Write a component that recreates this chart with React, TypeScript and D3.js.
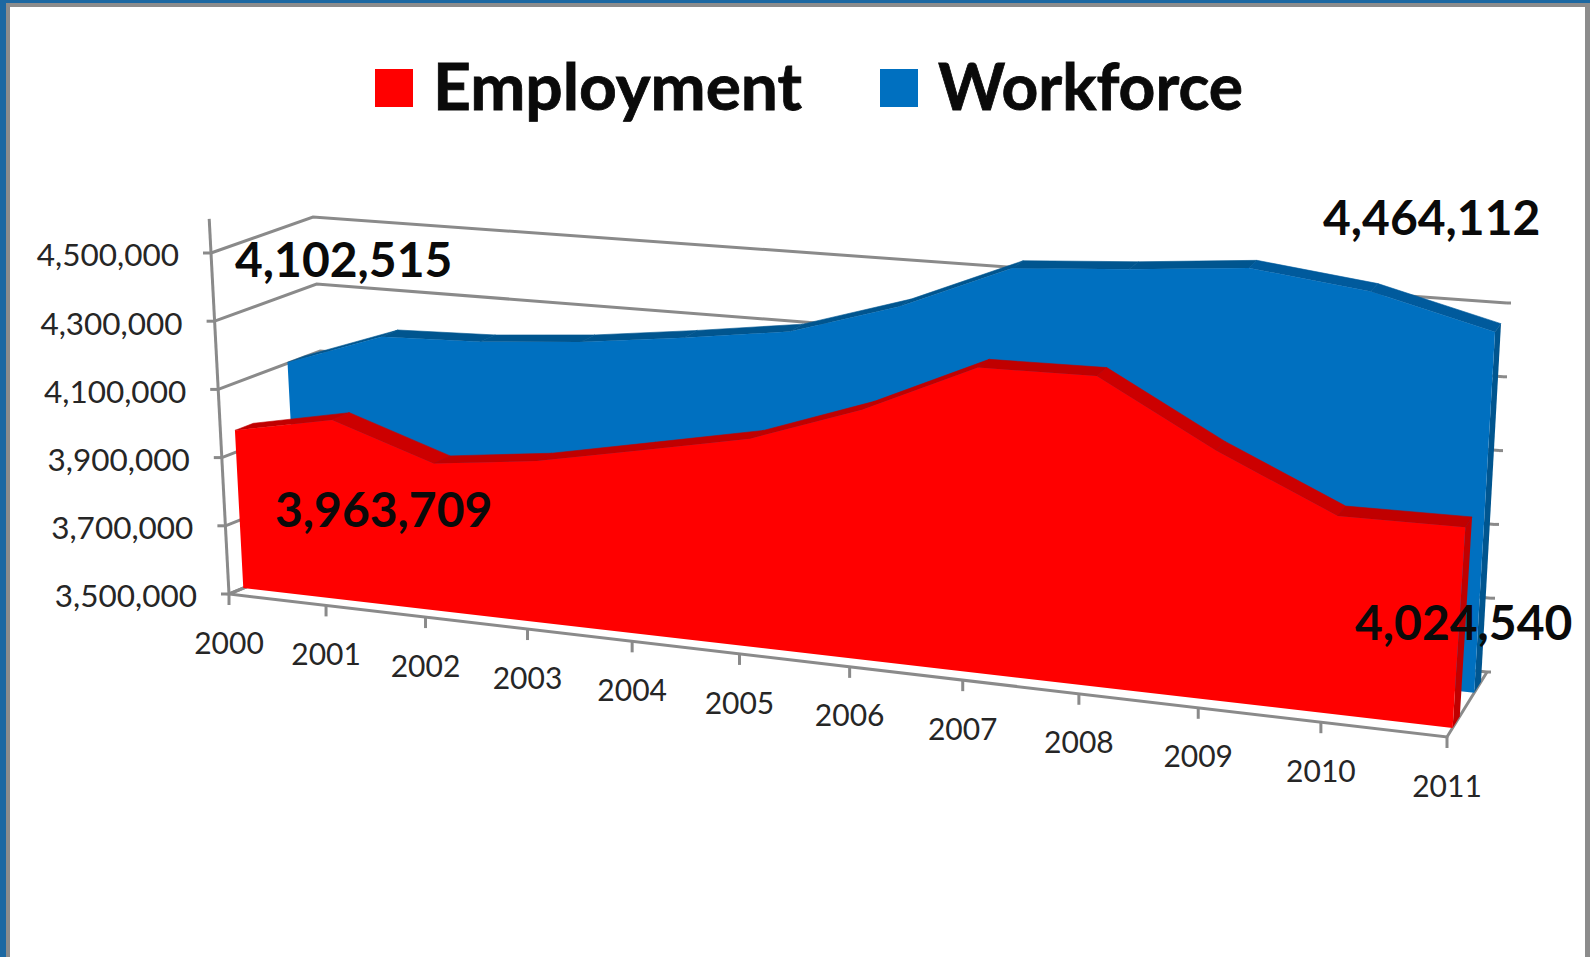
import React from "react";
import * as d3 from "d3";

// Annual state labour-market figures
const years = ["2000","2001","2002","2003","2004","2005","2006","2007","2008","2009","2010","2011"];
const employment = [3963709,4022000,3924000,3960000,4020000,4081000,4190000,4333000,4337000,4165000,4022000,4024540];
const workforce = [4102515,4203000,4212000,4236000,4273000,4315000,4410000,4541000,4561000,4588000,4548000,4464112];
const valueTicks = [3500000,3700000,3900000,4100000,4300000,4500000];

const WIDTH = 1590;
const HEIGHT = 957;
type Pt = [number, number];

// Eight corners of the chart box: front/back, left/right, floor level and top tick level
const box = {
  flb: [229, 594] as Pt, flt: [211, 253] as Pt,
  frb: [1447, 737] as Pt, frt: [1472, 352] as Pt,
  blb: [331, 552] as Pt, blt: [313, 217] as Pt,
  brb: [1487, 672] as Pt, brt: [1507, 303] as Pt,
};

const mix = (a: Pt, b: Pt, k: number): Pt => [a[0] + (b[0] - a[0]) * k, a[1] + (b[1] - a[1]) * k];

const yearScale = d3.scaleLinear().domain([0, years.length - 1]).range([0, 1]);
const valueScale = d3.scaleLinear().domain([3500000, 4500000]).range([0, 1]);
const FORESHORTEN = 1.155;

// Category position along the width of the box, with perspective foreshortening
const along = (i: number) => {
  const t = yearScale(i);
  return t / (t + (1 - t) * FORESHORTEN);
};

// Maps (year index, value, depth 0..1) onto the page
const project = (i: number, value: number, depth: number): Pt => {
  const u = along(i);
  const floor = mix(mix(box.flb, box.frb, u), mix(box.blb, box.brb, u), depth);
  const top = mix(mix(box.flt, box.frt, u), mix(box.blt, box.brt, u), depth);
  return mix(floor, top, valueScale(value));
};

const path = d3.line<Pt>().x((d) => d[0]).y((d) => d[1]);
const closed = (pts: Pt[]) => path(pts) + "Z";
const BASE = valueTicks[0];
const LAST = years.length - 1;

const AXIS = "#8a8a8a";
const LABEL = "#262626";
const SANS = "Lato, Carlito, sans-serif";

function Ribbon({ values, depth, thick, face, rim, rimAlt }: {
  values: number[]; depth: number; thick: number; face: string; rim: string; rimAlt: string;
}) {
  const front = values.map((v, i) => project(i, v, depth));
  const back = values.map((v, i) => project(i, v, depth + thick));
  const outline: Pt[] = [project(0, BASE, depth), ...front, project(LAST, BASE, depth)];
  const side: Pt[] = [
    project(LAST, BASE, depth), project(LAST, BASE, depth + thick),
    back[LAST], front[LAST],
  ];
  return (
    <g>
      {values.slice(1).map((v, k) => (
        <path
          key={k}
          d={closed([front[k], back[k], back[k + 1], front[k + 1]])}
          fill={v < values[k] ? rimAlt : rim}
          stroke={v < values[k] ? rimAlt : rim}
          strokeWidth={0.6}
        />
      ))}
      <path d={closed(side)} fill={rim} />
      <path d={closed(outline)} fill={face} />
    </g>
  );
}

export default function App() {
  const fmt = d3.format(",");
  const gridLine = { stroke: AXIS, strokeWidth: 3, fill: "none" };
  return (
    <svg
      width={WIDTH}
      height={HEIGHT}
      viewBox={`0 0 ${WIDTH} ${HEIGHT}`}
      style={{ position: "absolute", left: 0, top: 0, display: "block" }}
    >
      <rect width={WIDTH} height={HEIGHT} fill="#1c68a2" />
      <rect x={6} y={3} width={WIDTH - 6} height={HEIGHT} fill="#8c8c8c" />
      <rect x={10} y={7} width={1575} height={HEIGHT} fill="#ffffff" />

      {/* walls: one polyline per tick, across the side wall and along the back */}
      {valueTicks.map((v) => (
        <path
          key={v}
          d={path([project(0, v, 0), project(0, v, 1), project(LAST, v, 1)]) ?? ""}
          {...gridLine}
        />
      ))}
      {/* stubs on the right end of the back wall */}
      {valueTicks.map((v) => {
        const p = project(LAST, v, 1);
        return <path key={v} d={path([p, [p[0] + 4, p[1]]]) ?? ""} {...gridLine} />;
      })}

      {/* floor edges */}
      <path d={path([project(0, BASE, 1), project(0, BASE, 0), project(LAST, BASE, 0), project(LAST, BASE, 1)]) ?? ""} {...gridLine} />
      {/* value axis, running half a step past the last tick */}
      <path d={path([project(0, BASE, 0), project(0, 4600000, 0)]) ?? ""} {...gridLine} />

      {valueTicks.map((v) => {
        const [x, y] = project(0, v, 0);
        return (
          <g key={v}>
            <path d={path([[x - 8, y], [x, y]]) ?? ""} {...gridLine} />
            <text x={x - 32} y={y + 5.5} textAnchor="end" dominantBaseline="middle" fontFamily={SANS} fontSize={31.5} fill={LABEL}>
              {fmt(v)}
            </text>
          </g>
        );
      })}

      {years.map((label, i) => {
        const [x, y] = project(i, BASE, 0);
        return (
          <g key={label}>
            <path d={path([[x, y], [x, y + 11]]) ?? ""} {...gridLine} />
            <text x={x} y={y + 52} textAnchor="middle" dominantBaseline="middle" fontFamily={SANS} fontSize={30} fill={LABEL}>
              {label}
            </text>
          </g>
        );
      })}

      <Ribbon values={workforce} depth={0.68} thick={0.17} face="#0070c0" rim="#00558f" rimAlt="#005a9c" />
      <Ribbon values={employment} depth={0.14} thick={0.18} face="#ff0000" rim="#c00000" rimAlt="#cc0000" />

      {/* end-of-series value callouts */}
      <g fontFamily={SANS} fontWeight={700} fontSize={48} fill="#0a0a0a">
        <text x={235} y={277}>{fmt(workforce[0])}</text>
        <text x={1323} y={235}>{fmt(workforce[LAST])}</text>
        <text x={275} y={527}>{fmt(employment[0])}</text>
        <text x={1355} y={640}>{fmt(employment[LAST])}</text>
      </g>

      {/* legend */}
      <rect x={375} y={69} width={38} height={38} fill="#ff0000" />
      <rect x={880} y={69} width={38} height={38} fill="#0070c0" />
      <g fontFamily={SANS} fontWeight={700} fontSize={65} fill="#0a0a0a" stroke="#0a0a0a" strokeWidth={0.8}>
        <text x={433} y={110} textLength={369} lengthAdjust="spacingAndGlyphs">Employment</text>
        <text x={938} y={110} textLength={305} lengthAdjust="spacingAndGlyphs">Workforce</text>
      </g>
    </svg>
  );
}
